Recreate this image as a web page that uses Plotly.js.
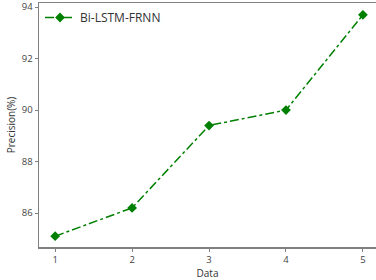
<!DOCTYPE html>
<html><head><meta charset="utf-8">
<script src="https://cdn.plot.ly/plotly-3.0.1.min.js"></script>
<style>html,body{margin:0;padding:0;background:#fff}#c{width:376px;height:280px}</style>
</head><body><div id="c"></div>
<script>
var xData = [1, 2, 3, 4, 5];
var precision = [85.1, 86.2, 89.4, 90.0, 93.7];
var xTicks = [1, 2, 3, 4, 5];
var yTicks = [86, 88, 90, 92, 94];
var seriesName = 'Bi-LSTM-FRNN';

var trace = {
  x: xData, y: precision, name: seriesName, type: 'scatter', mode: 'lines+markers',
  line: {color: '#008000', width: 1.5, dash: 'dashdot'},
  marker: {symbol: 'diamond', size: 7.5, color: '#008000'},
  showlegend: true
};
var axisCommon = {
  showline: true, linecolor: '#808080', linewidth: 1.5, mirror: true,
  ticks: 'outside', ticklen: 3, tickcolor: '#808080', showgrid: false, zeroline: false,
  tickfont: {family: 'Open Sans, sans-serif', size: 9.5, color: '#444'}
};
var layout = {
  width: 376, height: 280,
  margin: {l: 39, r: 0, t: 3, b: 33},
  paper_bgcolor: '#fff', plot_bgcolor: '#fff',
  showlegend: true,
  legend: {x: 0.003, y: 1.0, xanchor: 'left', yanchor: 'top', bgcolor: 'rgba(255,255,255,0)',
           font: {family: 'Open Sans, sans-serif', size: 12, color: '#333'}, itemwidth: 30},
  xaxis: Object.assign({}, axisCommon, {range: [0.79, 5.17], tickvals: xTicks,
    title: {text: 'Data', font: {family: 'Open Sans, sans-serif', size: 10, color: '#333'}, standoff: 2}}),
  yaxis: Object.assign({}, axisCommon, {range: [84.68, 94.16], tickvals: yTicks,
    title: {text: 'Precision(%)', font: {family: 'Open Sans, sans-serif', size: 10, color: '#333'}, standoff: 4}})
};
Plotly.newPlot('c', [trace], layout, {staticPlot: true});
</script></body></html>
